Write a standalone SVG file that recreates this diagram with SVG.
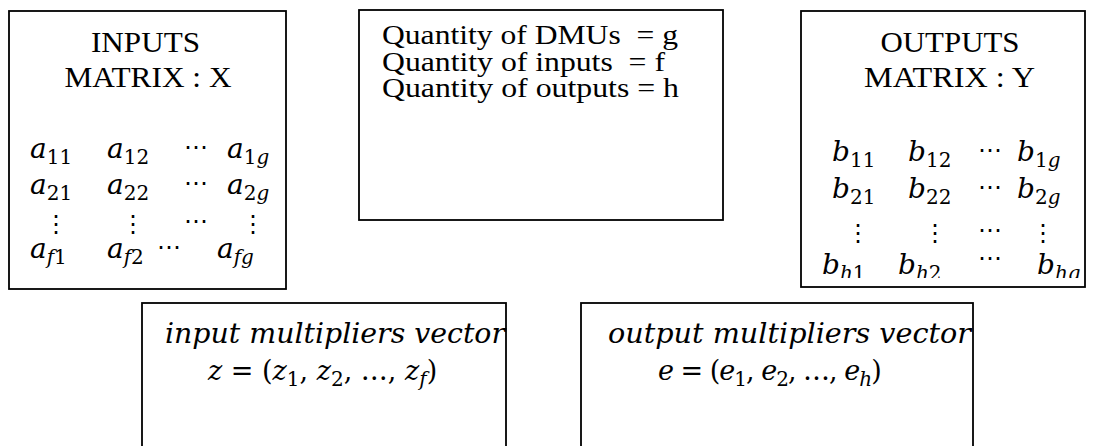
<svg xmlns="http://www.w3.org/2000/svg" width="1096" height="446" viewBox="0 0 1096 446">
<defs>
<style>
.box{fill:#fff;stroke:#000;stroke-width:1.8}
.t{font-family:"Liberation Serif","Times New Roman",serif;font-size:30px;fill:#000}
.q{font-family:"Liberation Serif","Times New Roman",serif;font-size:28px;fill:#000}
.m{font-family:"DejaVu Serif",serif;font-size:28px;fill:#000}
.v{font-family:"DejaVu Serif",serif;font-size:27px;fill:#000}
.i{font-style:italic}
.s{font-size:20px}
.d{font-family:"DejaVu Sans",sans-serif;font-size:24px}
</style>
<clipPath id="clipY"><rect x="801" y="11" width="284" height="267"/></clipPath>
</defs>
<rect width="1096" height="446" fill="#fff"/>
<g id="inputs-matrix">
<rect class="box" x="9" y="11" width="277" height="278"/>
<text class="t" x="145.5" y="52" text-anchor="middle" textLength="109" lengthAdjust="spacingAndGlyphs">INPUTS</text>
<text class="t" x="148" y="87" text-anchor="middle" textLength="167" lengthAdjust="spacingAndGlyphs">MATRIX : X</text>
<g class="m">
<text x="30" y="158"><tspan class="i">a</tspan><tspan class="s" dy="6">11</tspan></text>
<text x="107" y="158"><tspan class="i">a</tspan><tspan class="s" dy="6">12</tspan></text>
<text class="d" x="184" y="155">⋯</text>
<text x="227" y="158"><tspan class="i">a</tspan><tspan class="s" dy="6">1</tspan><tspan class="s i">g</tspan></text>
<text x="30" y="194"><tspan class="i">a</tspan><tspan class="s" dy="6">21</tspan></text>
<text x="107" y="194"><tspan class="i">a</tspan><tspan class="s" dy="6">22</tspan></text>
<text class="d" x="184" y="191">⋯</text>
<text x="227" y="194"><tspan class="i">a</tspan><tspan class="s" dy="6">2</tspan><tspan class="s i">g</tspan></text>
<text class="d" x="44" y="232">⋮</text>
<text class="d" x="121" y="232">⋮</text>
<text class="d" x="184" y="229">⋯</text>
<text class="d" x="241" y="232">⋮</text>
<text x="30" y="258"><tspan class="i">a</tspan><tspan class="s i" dy="6">f</tspan><tspan class="s">1</tspan></text>
<text x="107" y="258"><tspan class="i">a</tspan><tspan class="s i" dy="6">f</tspan><tspan class="s">2</tspan></text>
<text class="d" x="157" y="255">⋯</text>
<text x="217" y="258"><tspan class="i">a</tspan><tspan class="s i" dy="6">fg</tspan></text>
</g>
</g>
<g id="quantities">
<rect class="box" x="359" y="10" width="364" height="210"/>
<text class="q" x="382" y="44" textLength="296" lengthAdjust="spacingAndGlyphs" xml:space="preserve">Quantity of DMUs  = g</text>
<text class="q" x="382" y="70.5" textLength="283" lengthAdjust="spacingAndGlyphs" xml:space="preserve">Quantity of inputs  = f</text>
<text class="q" x="382" y="97" textLength="297" lengthAdjust="spacingAndGlyphs">Quantity of outputs = h</text>
</g>
<g id="outputs-matrix">
<rect class="box" x="801" y="11" width="284" height="276"/>
<text class="t" x="950" y="52" text-anchor="middle" textLength="139" lengthAdjust="spacingAndGlyphs">OUTPUTS</text>
<text class="t" x="949.5" y="87" text-anchor="middle" textLength="171" lengthAdjust="spacingAndGlyphs">MATRIX : Y</text>
<g class="m" clip-path="url(#clipY)">
<text x="832" y="161"><tspan class="i">b</tspan><tspan class="s" dy="6">11</tspan></text>
<text x="908" y="161"><tspan class="i">b</tspan><tspan class="s" dy="6">12</tspan></text>
<text class="d" x="978" y="158">⋯</text>
<text x="1017" y="161"><tspan class="i">b</tspan><tspan class="s" dy="6">1</tspan><tspan class="s i">g</tspan></text>
<text x="832" y="198"><tspan class="i">b</tspan><tspan class="s" dy="6">21</tspan></text>
<text x="908" y="198"><tspan class="i">b</tspan><tspan class="s" dy="6">22</tspan></text>
<text class="d" x="978" y="195">⋯</text>
<text x="1017" y="198"><tspan class="i">b</tspan><tspan class="s" dy="6">2</tspan><tspan class="s i">g</tspan></text>
<text class="d" x="846" y="241">⋮</text>
<text class="d" x="923" y="241">⋮</text>
<text class="d" x="978" y="238">⋯</text>
<text class="d" x="1031" y="241">⋮</text>
<text x="822" y="274"><tspan class="i">b</tspan><tspan class="s i" dy="6">h</tspan><tspan class="s">1</tspan></text>
<text x="898" y="274"><tspan class="i">b</tspan><tspan class="s i" dy="6">h</tspan><tspan class="s">2</tspan></text>
<text class="d" x="978" y="266">⋯</text>
<text x="1037" y="274"><tspan class="i">b</tspan><tspan class="s i" dy="6">hg</tspan></text>
</g>
</g>
<g id="input-multipliers">
<rect class="box" x="142" y="303" width="364" height="160"/>
<text class="m i" x="165" y="343" textLength="340" lengthAdjust="spacingAndGlyphs">input multipliers vector</text>
<text class="v" x="208" y="380"><tspan class="i">z</tspan> = (<tspan class="i">z</tspan><tspan class="s" dy="6">1</tspan><tspan dy="-6">, </tspan><tspan class="i">z</tspan><tspan class="s" dy="6">2</tspan><tspan dy="-6">, …, </tspan><tspan class="i">z</tspan><tspan class="s i" dy="6">f</tspan><tspan dy="-6">)</tspan></text>
</g>
<g id="output-multipliers">
<rect class="box" x="581" y="303" width="392" height="160"/>
<text class="m i" x="608" y="343" textLength="363" lengthAdjust="spacingAndGlyphs">output multipliers vector</text>
<text class="v" x="658" y="380" letter-spacing="-1"><tspan class="i">e</tspan> = (<tspan class="i">e</tspan><tspan class="s" dy="6">1</tspan><tspan dy="-6">, </tspan><tspan class="i">e</tspan><tspan class="s" dy="6">2</tspan><tspan dy="-6">, …, </tspan><tspan class="i">e</tspan><tspan class="s i" dy="6">h</tspan><tspan dy="-6">)</tspan></text>
</g>
<g id="connectors"></g>
</svg>
